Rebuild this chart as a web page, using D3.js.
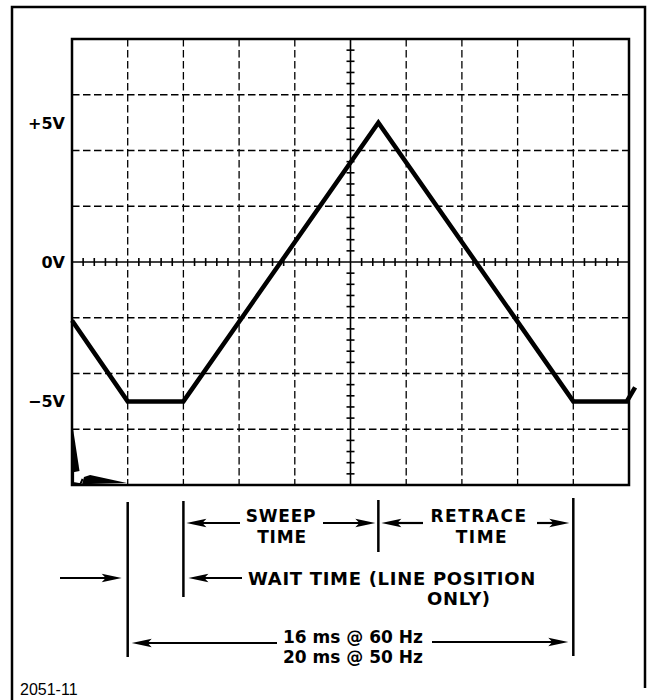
<!DOCTYPE html>
<html>
<head>
<meta charset="utf-8">
<script src="https://cdn.jsdelivr.net/npm/d3@7"></script>
<style>
  body { margin: 0; background: #fff; }
  text { font-family: "DejaVu Sans", sans-serif; font-weight: bold; fill: #000; }
</style>
</head>
<body>
<div id="chart"></div>
<script>
// scope trace, time in ms (2 ms/div) vs volts (2 V/div)
const traceTime = [0, 2, 4, 11, 18, 19.92, 20.22];
const traceVolts = [-2.1, -5, -5, 5, -5, -5, -4.5];

// beam smear in the lower left corner
const smearTime = [0, 0.04, 0.27, 0];
const smearVolts = [-6.0, -6.0, -7.5, -7.55];
const tailTime = [0.43, 0.65, 1.97, 0.36];
const tailVolts = [-7.71, -7.64, -7.93, -7.97];
const curlTime = [0.04, 0.04, 0.3, 0.38];
const curlVolts = [-7.5, -7.93, -7.97, -7.78];

const voltTicks = [5, 0, -5];
const voltLabels = ["+5V", "0V", "\u22125V"];
const gridTimes = [2, 4, 6, 8, 12, 14, 16, 18];
const gridVolts = [-6, -4, -2, 2, 4, 6];

// timing markers (ms) under the screen
const markTimes = [2, 4, 11, 18];
const sweepLabel = ["SWEEP", "TIME"];
const retraceLabel = ["RETRACE", "TIME"];
const waitLabel = ["WAIT TIME (LINE POSITION", "ONLY)"];
const periodLabel = ["16 ms @ 60 Hz", "20 ms @ 50 Hz"];
const figNumber = "2051-11";

const W = 647, H = 700;
const svg = d3.select("#chart").append("svg")
  .attr("width", W).attr("height", H);

const x = d3.scaleLinear().domain([0, 20]).range([72, 629]);
const y = d3.scaleLinear().domain([-8, 8]).range([485, 39]);

// outer frame
svg.append("path")
  .attr("d", `M12,700 V7 H645 V688`)
  .attr("fill", "none").attr("stroke", "#000").attr("stroke-width", 2.5);

// dashed graticule
const grid = svg.append("g").attr("stroke", "#000").attr("stroke-width", 1.3)
  .attr("stroke-dasharray", "7.5,3.5");
grid.selectAll(".gx").data(gridTimes).join("line")
  .attr("x1", d => x(d)).attr("x2", d => x(d))
  .attr("y1", y(8)).attr("y2", y(-8));
grid.selectAll(".gy").data(gridVolts).join("line")
  .attr("y1", d => y(d)).attr("y2", d => y(d))
  .attr("x1", x(0)).attr("x2", x(20));

// center axes with minor ticks (5 per division)
const axes = svg.append("g").attr("stroke", "#000").attr("stroke-width", 1.6);
axes.append("line").attr("x1", x(0)).attr("x2", x(20)).attr("y1", y(0)).attr("y2", y(0));
axes.append("line").attr("x1", x(10)).attr("x2", x(10)).attr("y1", y(8)).attr("y2", y(-8));
const minorT = d3.range(0.4, 20, 0.4).filter(t => Math.abs(t - Math.round(t / 2) * 2) > 0.01);
const minorV = d3.range(-7.6, 8, 0.4).filter(v => Math.abs(v - Math.round(v / 2) * 2) > 0.01);
axes.selectAll(".mt").data(minorT).join("line")
  .attr("x1", d => x(d)).attr("x2", d => x(d))
  .attr("y1", y(0) - 4).attr("y2", y(0) + 4);
axes.selectAll(".mv").data(minorV).join("line")
  .attr("y1", d => y(d)).attr("y2", d => y(d))
  .attr("x1", x(10) - 4).attr("x2", x(10) + 4);

// graticule border
svg.append("rect")
  .attr("x", x(0)).attr("y", y(8))
  .attr("width", x(20) - x(0)).attr("height", y(-8) - y(8))
  .attr("fill", "none").attr("stroke", "#000").attr("stroke-width", 2.5);

// volt labels
svg.selectAll(".vl").data(voltTicks).join("text")
  .attr("x", 65).attr("y", d => y(d) + 6)
  .attr("text-anchor", "end").attr("font-size", 16)
  .text((d, i) => voltLabels[i]);

// trace
const line = d3.line().x(d => x(d[0])).y(d => y(d[1]));
svg.append("path")
  .datum(d3.zip(traceTime, traceVolts))
  .attr("d", line)
  .attr("fill", "none").attr("stroke", "#000")
  .attr("stroke-width", 4.5).attr("stroke-linejoin", "miter");

svg.append("path").datum(d3.zip(smearTime, smearVolts))
  .attr("d", d => line(d) + "Z").attr("fill", "#000");
svg.append("path").datum(d3.zip(tailTime, tailVolts))
  .attr("d", d => line(d) + "Z").attr("fill", "#000");
svg.append("path").datum(d3.zip(curlTime, curlVolts))
  .attr("d", line).attr("fill", "none").attr("stroke", "#000").attr("stroke-width", 2);

// timing markers
const markY = [[502, 657], [501, 597], [500, 552], [498, 656]];
svg.selectAll(".mk").data(markTimes).join("line")
  .attr("x1", d => x(d)).attr("x2", d => x(d))
  .attr("y1", (d, i) => markY[i][0]).attr("y2", (d, i) => markY[i][1])
  .attr("stroke", "#000").attr("stroke-width", 2.5);

function arrow(x1, x2, yy) {
  const dir = Math.sign(x2 - x1), len = 20, hw = 4.2;
  svg.append("line").attr("x1", x1).attr("x2", x2 - dir * len / 2)
    .attr("y1", yy).attr("y2", yy).attr("stroke", "#000").attr("stroke-width", 2.2);
  svg.append("path")
    .attr("d", `M${x2},${yy} L${x2 - dir * len},${yy - hw} L${x2 - dir * len * 0.8},${yy} L${x2 - dir * len},${yy + hw} Z`)
    .attr("fill", "#000");
}

// sweep
arrow(240, x(4) + 3, 523);
arrow(323, x(11) - 3, 523);
// retrace
arrow(423, x(11) + 3, 523);
arrow(537, x(18) - 4, 523);
// wait
arrow(60, x(2) - 6, 578);
arrow(242, x(4) + 5, 578);
// period
arrow(277, x(2) + 4, 643);
arrow(432, x(18) - 5, 642);

function label(str, xx, yy, size, anchor, spacing) {
  svg.append("text").attr("x", xx).attr("y", yy)
    .attr("font-size", size).attr("text-anchor", anchor)
    .attr("letter-spacing", spacing).text(str);
}
label(sweepLabel[0], 281, 522, 17, "middle", 0.8);
label(sweepLabel[1], 282, 543, 17, "middle", 0.8);
label(retraceLabel[0], 479, 522, 17, "middle", 1.5);
label(retraceLabel[1], 482, 543, 17, "middle", 1.5);
label(waitLabel[0], 248, 585, 18, "start", 0.7);
label(waitLabel[1], 427, 605, 18, "start", 0.7);
label(periodLabel[0], 283, 643, 17, "start", 0);
label(periodLabel[1], 283, 663, 17, "start", 0);

svg.append("text").attr("x", 20).attr("y", 695)
  .attr("font-size", 16)
  .style("font-weight", "normal").style("font-family", "'Liberation Sans', Arial, sans-serif")
  .text(figNumber);
</script>
</body>
</html>
